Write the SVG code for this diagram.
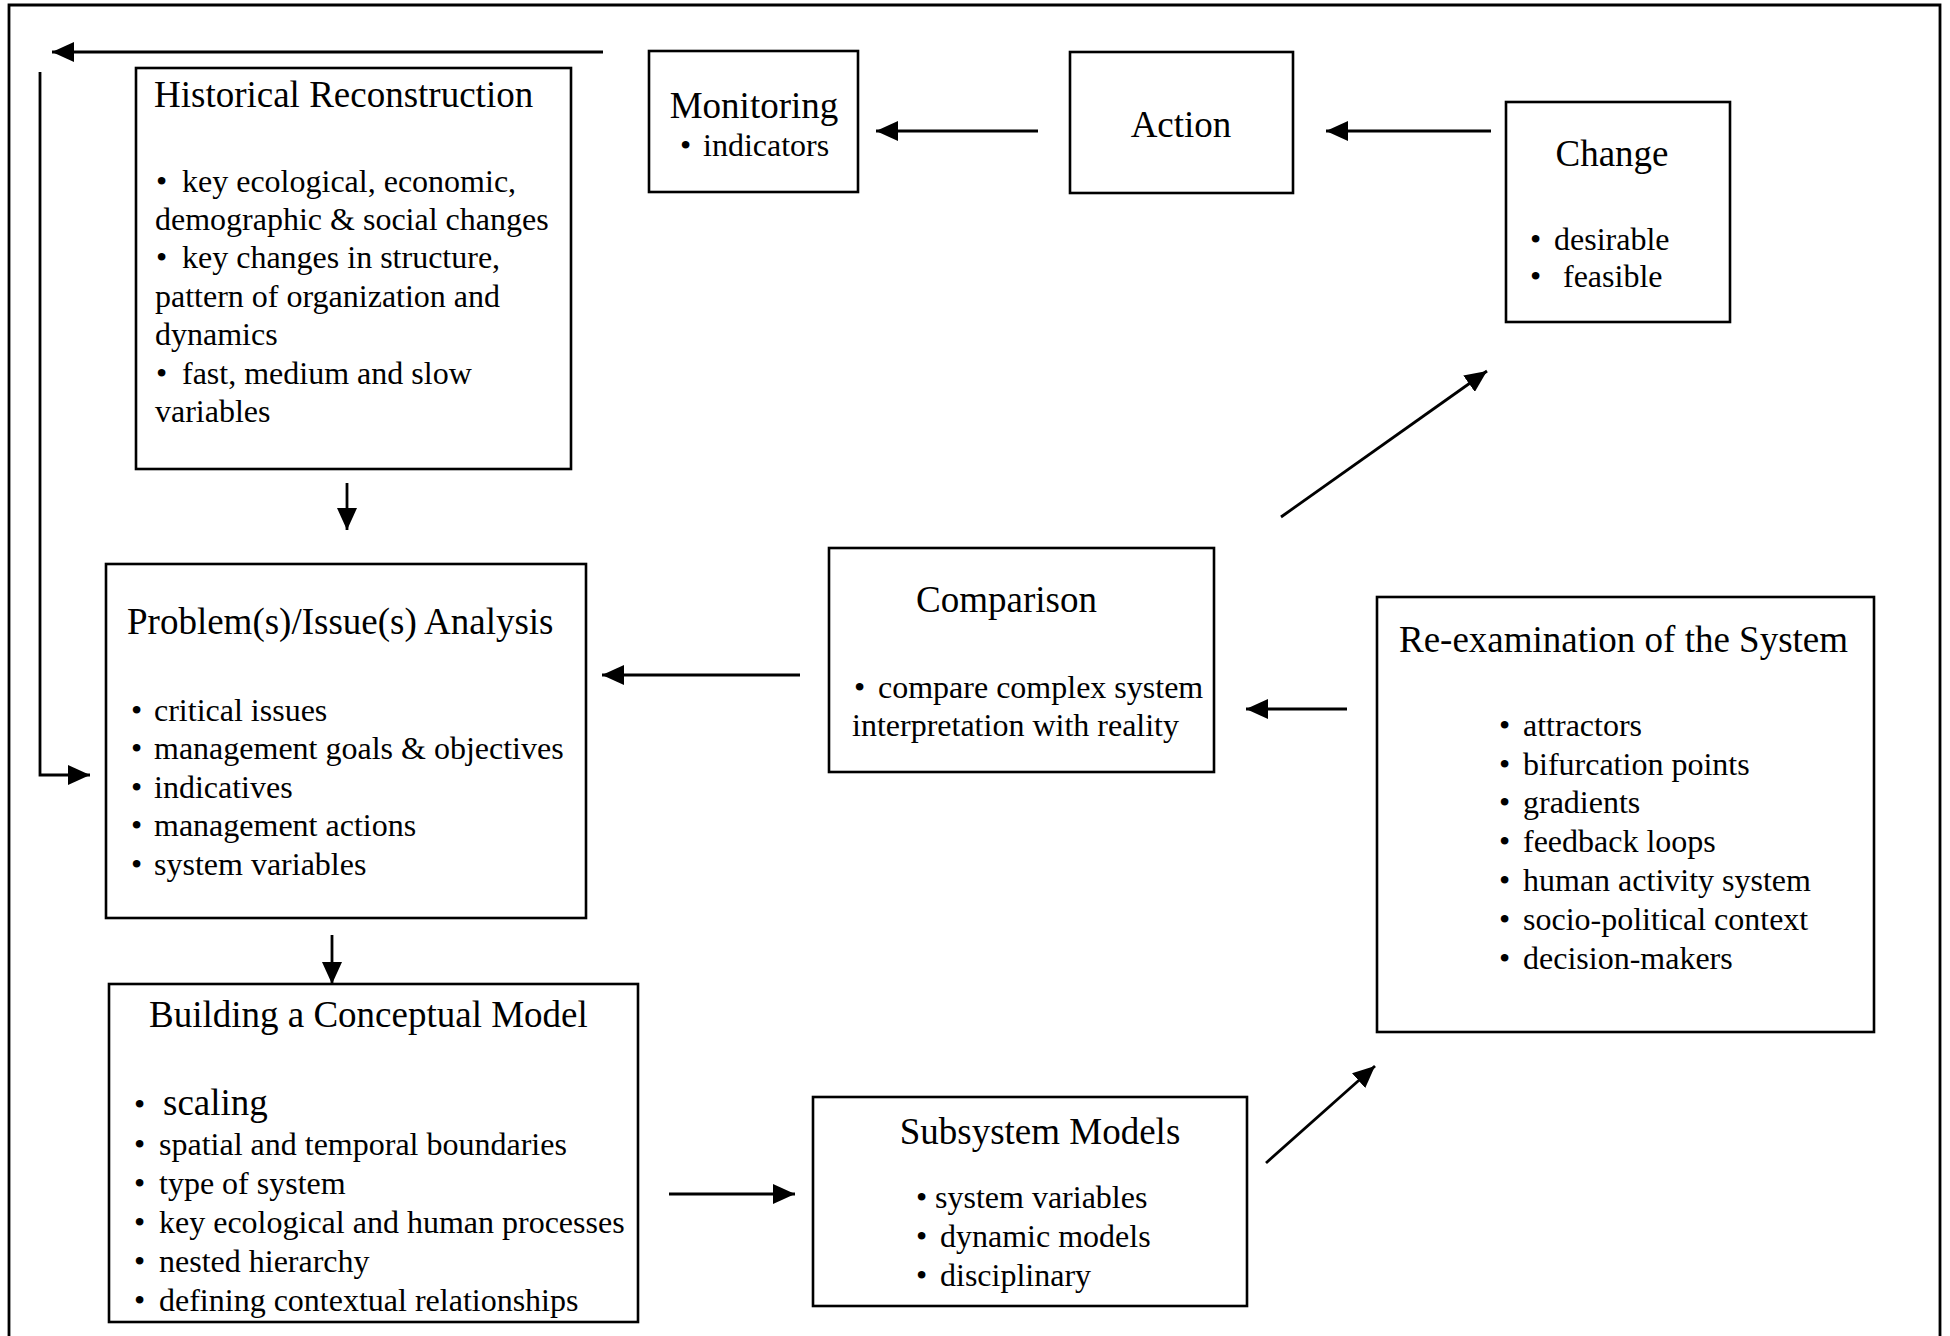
<svg xmlns="http://www.w3.org/2000/svg" width="1950" height="1336" viewBox="0 0 1950 1336">
<defs>
<marker id="ah" markerUnits="userSpaceOnUse" markerWidth="24" markerHeight="20" refX="22" refY="10" orient="auto">
<path d="M0,0 L22,10 L0,20 Z" fill="#000"/>
</marker>
<style>
.box{fill:#fff;stroke:#000;stroke-width:2.6}
.t{font-family:"Liberation Serif","Times New Roman",serif;font-size:37px;fill:#000}
.b{font-family:"Liberation Serif","Times New Roman",serif;font-size:32px;fill:#000}
.c{stroke:#000;stroke-width:2.8;fill:none}
.ca{stroke:#000;stroke-width:2.8;fill:none;marker-end:url(#ah)}
</style>
</defs>
<rect width="1950" height="1336" fill="#fff"/>
<path class="c" d="M9,1336 V5 H1940 V1336"/>

<g id="connectors">
<line class="ca" x1="603" y1="52" x2="52" y2="52"/>
<polyline class="ca" points="40,72 40,775 90,775"/>
<line class="ca" x1="1038" y1="131" x2="876" y2="131"/>
<line class="ca" x1="1491" y1="131" x2="1326" y2="131"/>
<line class="ca" x1="1281" y1="517" x2="1487" y2="371"/>
<line class="ca" x1="1347" y1="709" x2="1246" y2="709"/>
<line class="ca" x1="800" y1="675" x2="602" y2="675"/>
<line class="ca" x1="347" y1="483" x2="347" y2="530"/>
<line class="ca" x1="332" y1="935" x2="332" y2="984"/>
<line class="ca" x1="669" y1="1194" x2="795" y2="1194"/>
<line class="ca" x1="1266" y1="1163" x2="1375" y2="1066"/>
</g>

<g id="historical">
<rect class="box" x="136" y="68" width="435" height="401"/>
<text class="t" x="154" y="107">Historical Reconstruction</text>
<text class="b" x="156" y="192">•<tspan x="182">key ecological, economic,</tspan></text>
<text class="b" x="155" y="230">demographic &amp; social changes</text>
<text class="b" x="156" y="268">•<tspan x="182">key changes in structure,</tspan></text>
<text class="b" x="155" y="307">pattern of organization and</text>
<text class="b" x="155" y="345">dynamics</text>
<text class="b" x="156" y="384">•<tspan x="182">fast, medium and slow</tspan></text>
<text class="b" x="155" y="422">variables</text>
</g>

<g id="monitoring">
<rect class="box" x="649" y="51" width="209" height="141"/>
<text class="t" x="754" y="118" text-anchor="middle">Monitoring</text>
<text class="b" x="680" y="156">•<tspan x="703">indicators</tspan></text>
</g>

<g id="action">
<rect class="box" x="1070" y="52" width="223" height="141"/>
<text class="t" x="1181" y="137" text-anchor="middle">Action</text>
</g>

<g id="change">
<rect class="box" x="1506" y="102" width="224" height="220"/>
<text class="t" x="1612" y="166" text-anchor="middle">Change</text>
<text class="b" x="1530" y="250">•<tspan x="1554">desirable</tspan></text>
<text class="b" x="1530" y="287">•<tspan x="1563">feasible</tspan></text>
</g>

<g id="comparison">
<rect class="box" x="829" y="548" width="385" height="224"/>
<text class="t" x="916" y="612">Comparison</text>
<text class="b" x="854" y="698">•<tspan x="878">compare complex system</tspan></text>
<text class="b" x="852" y="736">interpretation with reality</text>
</g>

<g id="problem">
<rect class="box" x="106" y="564" width="480" height="354"/>
<text class="t" x="127" y="634">Problem(s)/Issue(s) Analysis</text>
<text class="b" x="131" y="721">•<tspan x="154">critical issues</tspan></text>
<text class="b" x="131" y="759">•<tspan x="154">management goals &amp; objectives</tspan></text>
<text class="b" x="131" y="798">•<tspan x="154">indicatives</tspan></text>
<text class="b" x="131" y="836">•<tspan x="154">management actions</tspan></text>
<text class="b" x="131" y="875">•<tspan x="154">system variables</tspan></text>
</g>

<g id="reexamination">
<rect class="box" x="1377" y="597" width="497" height="435"/>
<text class="t" x="1399" y="652">Re-examination of the System</text>
<text class="b" x="1499" y="736">•<tspan x="1523">attractors</tspan></text>
<text class="b" x="1499" y="775">•<tspan x="1523">bifurcation points</tspan></text>
<text class="b" x="1499" y="813">•<tspan x="1523">gradients</tspan></text>
<text class="b" x="1499" y="852">•<tspan x="1523">feedback loops</tspan></text>
<text class="b" x="1499" y="891">•<tspan x="1523">human activity system</tspan></text>
<text class="b" x="1499" y="930">•<tspan x="1523">socio-political context</tspan></text>
<text class="b" x="1499" y="969">•<tspan x="1523">decision-makers</tspan></text>
</g>

<g id="building">
<rect class="box" x="109" y="984" width="529" height="338"/>
<text class="t" x="149" y="1027">Building a Conceptual Model</text>
<text class="b" x="134" y="1115">•<tspan x="163" font-size="37">scaling</tspan></text>
<text class="b" x="134" y="1155">•<tspan x="159">spatial and temporal boundaries</tspan></text>
<text class="b" x="134" y="1194">•<tspan x="159">type of system</tspan></text>
<text class="b" x="134" y="1233">•<tspan x="159">key ecological and human processes</tspan></text>
<text class="b" x="134" y="1272">•<tspan x="159">nested hierarchy</tspan></text>
<text class="b" x="134" y="1311">•<tspan x="159">defining contextual relationships</tspan></text>
</g>

<g id="subsystem">
<rect class="box" x="813" y="1097" width="434" height="209"/>
<text class="t" x="1040" y="1144" text-anchor="middle">Subsystem Models</text>
<text class="b" x="916" y="1208">•<tspan x="935">system variables</tspan></text>
<text class="b" x="916" y="1247">•<tspan x="940">dynamic models</tspan></text>
<text class="b" x="916" y="1286">•<tspan x="940">disciplinary</tspan></text>
</g>
</svg>
